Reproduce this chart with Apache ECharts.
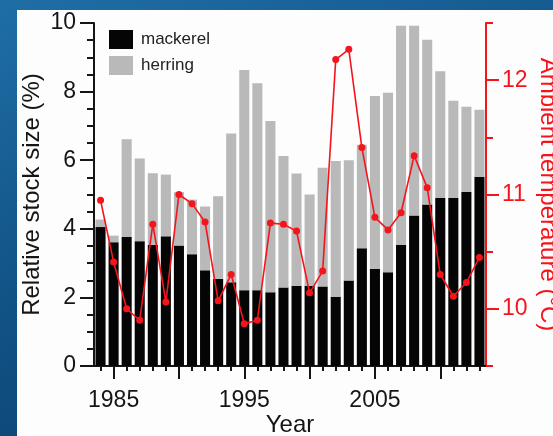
<!DOCTYPE html>
<html>
<head>
<meta charset="utf-8">
<script src="https://cdn.jsdelivr.net/npm/echarts@6/dist/echarts.min.js"></script>
<style>
  html, body { margin: 0; padding: 0; }
  body {
    width: 553px; height: 436px; overflow: hidden; position: relative;
    background: linear-gradient(160deg, #1f6ea6 0%, #125487 45%, #0b3c6b 100%);
  }
  #panel { position: absolute; left: 17px; top: 10px; right: 0; bottom: 0; background: #fdfdfd; }
  #chart { position: absolute; left: 0; top: 0; width: 553px; height: 436px; }
</style>
</head>
<body>
<div id="panel"></div>
<div id="chart"></div>
<script>
// Years of the survey
const years = [1984, 1985, 1986, 1987, 1988, 1989, 1990, 1991, 1992, 1993,
               1994, 1995, 1996, 1997, 1998, 1999, 2000, 2001, 2002, 2003,
               2004, 2005, 2006, 2007, 2008, 2009, 2010, 2011, 2012, 2013];

// Relative stock size (%), stacked: mackerel at the bottom, herring on top
const mackerel = [4.05, 3.61, 3.76, 3.64, 3.53, 3.78, 3.51, 3.26, 2.79, 2.54,
                  2.44, 2.21, 2.21, 2.15, 2.29, 2.34, 2.34, 2.32, 2.02, 2.49,
                  3.43, 2.83, 2.73, 3.53, 4.39, 4.71, 4.90, 4.90, 5.07, 5.52];
const herring  = [0.22, 0.19, 2.85, 2.41, 2.09, 1.80, 1.56, 1.59, 1.86, 2.41,
                  4.34, 6.42, 6.03, 4.99, 3.83, 3.27, 2.66, 3.46, 3.96, 3.51,
                  3.02, 5.04, 5.24, 6.39, 5.53, 4.80, 3.69, 2.83, 2.49, 1.95];

// Ambient temperature (°C)
const temperature = [10.95, 10.41, 10.00, 9.90, 10.74, 10.06, 11.00, 10.92, 10.76, 10.07,
                     10.30, 9.87, 9.90, 10.75, 10.74, 10.68, 10.14, 10.33, 12.18, 12.27,
                     11.41, 10.80, 10.69, 10.84, 11.34, 11.06, 10.30, 10.11, 10.23, 10.45];

// Axis tick values
const stockTicks = [0, 2, 4, 6, 8, 10];
const tempLabels = [10, 11, 12];
const tempMinorTicks = [9.5, 10.5, 11.5, 12.5];

const FONT = 'Liberation Sans, Arial, Helvetica, sans-serif';
const RED = '#f5141c';
const INK = '#151515';

const chart = echarts.init(document.getElementById('chart'), null, { renderer: 'canvas' });

const yearLabels = years.map(String);

chart.setOption({
  backgroundColor: 'transparent',
  animation: false,
  textStyle: { fontFamily: FONT },
  grid: { left: 94, right: 67, top: 23, bottom: 70, containLabel: false, outerBoundsMode: 'none' },
  legend: {
    data: ['mackerel', 'herring'],
    orient: 'vertical',
    left: 104, top: 25,
    itemWidth: 24, itemHeight: 19, itemGap: 7,
    icon: 'rect',
    textStyle: { fontFamily: FONT, fontSize: 17, color: '#222', padding: [0, 0, 0, 3] }
  },
  xAxis: [
    {
      type: 'category',
      data: yearLabels,
      boundaryGap: true,
      name: 'Year',
      nameLocation: 'middle',
      nameGap: 47,
      nameMoveOverlap: false,
      nameTextStyle: { fontFamily: FONT, fontSize: 24, color: INK },
      axisLine: { show: true, lineStyle: { color: INK, width: 2 } },
      axisTick: {
        show: true, alignWithLabel: true, length: 13,
        lineStyle: { color: INK, width: 2 },
        interval: (i) => years[i] % 5 === 0
      },
      axisLabel: {
        show: true, fontSize: 23, color: INK, margin: 23, fontFamily: FONT,
        interval: (i) => years[i] % 10 === 5
      },
      splitLine: { show: false }
    },
    {
      // every-year minor ticks
      type: 'category',
      data: yearLabels,
      boundaryGap: true,
      position: 'bottom',
      axisLine: { show: false },
      axisTick: {
        show: true, alignWithLabel: true, length: 5,
        lineStyle: { color: INK, width: 2 },
        interval: 0
      },
      axisLabel: { show: false },
      splitLine: { show: false }
    }
  ],
  yAxis: [
    {
      type: 'value',
      position: 'left',
      min: stockTicks[0], max: stockTicks[stockTicks.length - 1], interval: 2,
      name: 'Relative stock size (%)',
      nameLocation: 'middle',
      nameGap: 50,
      nameMoveOverlap: false,
      nameTextStyle: { fontFamily: FONT, fontSize: 24, color: INK },
      axisLine: { show: true, lineStyle: { color: INK, width: 2 } },
      axisTick: { show: true, length: 14, lineStyle: { color: INK, width: 2 } },
      minorTick: { show: true, splitNumber: 4, length: 7, lineStyle: { color: INK, width: 2 } },
      axisLabel: { fontSize: 23, color: INK, margin: 18, fontFamily: FONT },
      splitLine: { show: false },
      minorSplitLine: { show: false }
    },
    {
      type: 'value',
      position: 'right',
      min: 9.5, max: 12.5, interval: 0.5,
      name: 'Ambient temperature (°C)',
      nameLocation: 'middle',
      nameRotate: -90,
      nameGap: 50,
      nameMoveOverlap: false,
      nameTextStyle: { fontFamily: FONT, fontSize: 24, color: RED },
      axisLine: { show: true, lineStyle: { color: RED, width: 2 } },
      axisTick: { show: true, length: 13, customValues: tempLabels, lineStyle: { color: RED, width: 2 } },
      axisLabel: { fontSize: 23, color: RED, margin: 16, fontFamily: FONT, customValues: tempLabels },
      splitLine: { show: false }
    },
    {
      // half-degree ticks on the temperature axis
      type: 'value',
      position: 'right',
      min: 9.5, max: 12.5, interval: 0.5,
      axisLine: { show: false },
      axisTick: { show: true, length: 7, customValues: tempMinorTicks, lineStyle: { color: RED, width: 2 } },
      axisLabel: { show: false },
      splitLine: { show: false }
    }
  ],
  series: [
    {
      name: 'mackerel',
      type: 'bar',
      stack: 'stock',
      data: mackerel,
      barWidth: '77%',
      itemStyle: { color: '#050505' }
    },
    {
      name: 'herring',
      type: 'bar',
      stack: 'stock',
      data: herring,
      barWidth: '77%',
      itemStyle: { color: '#b9b9b9' }
    },
    {
      name: 'temperature',
      type: 'line',
      yAxisIndex: 1,
      data: temperature,
      symbol: 'circle',
      symbolSize: 7,
      lineStyle: { color: RED, width: 1.6 },
      itemStyle: { color: RED },
      z: 5
    }
  ]
});
</script>
</body>
</html>
